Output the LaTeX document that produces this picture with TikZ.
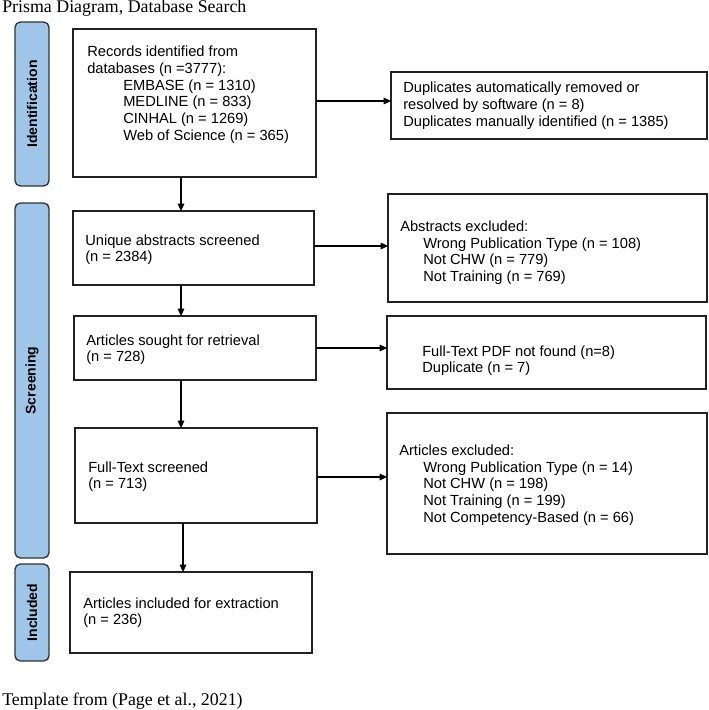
\documentclass[tikz,border=0pt]{standalone}
\usepackage{fontspec}
\setmainfont{Liberation Serif}
\setsansfont{Liberation Sans}
\usetikzlibrary{arrows.meta}
\definecolor{barblue}{HTML}{9FC5E8}
\definecolor{barline}{HTML}{333333}
\definecolor{boxline}{HTML}{222222}
\newcommand{\mylines}[1]{\begin{tabular}[t]{@{}l@{}}#1\end{tabular}}
\tikzset{
  box/.style={draw=boxline, line width=0.9pt, fill=white, anchor=north west, inner sep=0pt, outer sep=0pt},
  bar/.style={draw=barline, line width=1pt, fill=barblue, rounded corners=4pt, anchor=north west, inner sep=0pt, outer sep=0pt},
  txt/.style={anchor=base west, inner sep=0pt, font=\sffamily\fontsize{11}{12.6}\selectfont},
  barlbl/.style={rotate=90, inner sep=0pt, font=\sffamily\bfseries\fontsize{10.5}{12.6}\selectfont},
  caption/.style={anchor=base west, inner sep=0pt, font=\rmfamily\fontsize{13.4}{15}\selectfont},
  arr/.style={draw=black, line width=0.8pt, -{Triangle[length=5.5pt,width=5pt]}}
}
\begin{document}
\begin{tikzpicture}[x=0.75pt,y=-0.75pt]
\useasboundingbox (0,0) rectangle (708,710);
% title and footer
\node[caption] (title) at (2,13) {Prisma Diagram, Database Search};
\node[caption] (footer) at (2,705) {Template from (Page et al., 2021)};
% side bars
\node[bar, minimum width=34*0.75pt, minimum height=164*0.75pt] (barI) at (15,22) {};
\node[barlbl] (lblI) at (barI.center) {Identification};
\node[bar, minimum width=34*0.75pt, minimum height=355*0.75pt] (barS) at (15,203) {};
\node[barlbl] (lblS) at (barS.center) {Screening};
\node[bar, minimum width=34*0.75pt, minimum height=97*0.75pt] (barN) at (15,564) {};
\node[barlbl] (lblN) at (barN.center) {Included};
% main boxes
\node[box, minimum width=243*0.75pt, minimum height=148*0.75pt] (b1) at (73,29) {};
\node[box, minimum width=241*0.75pt, minimum height=74*0.75pt] (b2) at (73,211) {};
\node[box, minimum width=242*0.75pt, minimum height=64*0.75pt] (b3) at (74,316) {};
\node[box, minimum width=242*0.75pt, minimum height=95*0.75pt] (b4) at (75,428) {};
\node[box, minimum width=242*0.75pt, minimum height=81*0.75pt] (b5) at (70,572) {};
% right boxes
\node[box, minimum width=316*0.75pt, minimum height=67*0.75pt] (r1) at (391,72) {};
\node[box, minimum width=319*0.75pt, minimum height=108*0.75pt] (r2) at (388,194) {};
\node[box, minimum width=319*0.75pt, minimum height=73*0.75pt] (r3) at (387,316) {};
\node[box, minimum width=320*0.75pt, minimum height=141*0.75pt] (r4) at (387,413) {};
% texts
\node[txt] (t1) at (87,57) {\mylines{Records identified from\\databases (n =3777):}};
\node[txt] (t1b) at (123,90) {\mylines{EMBASE (n = 1310)\\MEDLINE (n = 833)\\CINHAL (n = 1269)\\Web of Science (n = 365)}};
\node[txt] (t2) at (85,245) {\mylines{Unique abstracts screened\\(n = 2384)}};
\node[txt] (t3) at (86,345) {\mylines{Articles sought for retrieval\\(n = 728)}};
\node[txt] (t4) at (88,472) {\mylines{Full-Text screened\\(n = 713)}};
\node[txt] (t5) at (83,608) {\mylines{Articles included for extraction\\(n = 236)}};
\node[txt] (u1) at (403,93) {\mylines{Duplicates automatically removed or\\resolved by software (n = 8)\\Duplicates manually identified (n = 1385)}};
\node[txt] (u2) at (400,231) {Abstracts excluded:};
\node[txt] (u2b) at (423,248) {\mylines{Wrong Publication Type (n = 108)\\Not CHW (n = 779)\\Not Training (n = 769)}};
\node[txt] (u3) at (422,356) {\mylines{Full-Text PDF not found (n=8)\\Duplicate (n = 7)}};
\node[txt] (u4) at (399,455) {Articles excluded:};
\node[txt] (u4b) at (423,472) {\mylines{Wrong Publication Type (n = 14)\\Not CHW (n = 198)\\Not Training (n = 199)\\Not Competency-Based (n = 66)}};
% connector guides
\coordinate (vx1) at (181,0);
\coordinate (vx2) at (183,0);
\coordinate (h1) at (0,101);
\coordinate (h2) at (0,246);
\coordinate (h3) at (0,348);
\coordinate (h4) at (0,477);
% vertical arrows
\draw[arr] (b1.south -| vx1) -- (b2.north -| vx1);
\draw[arr] (b2.south -| vx1) -- (b3.north -| vx1);
\draw[arr] (b3.south -| vx1) -- (b4.north -| vx1);
\draw[arr] (b4.south -| vx2) -- (b5.north -| vx2);
% horizontal arrows
\draw[arr] (b1.east |- h1) -- (r1.west |- h1);
\draw[arr] (b2.east |- h2) -- (r2.west |- h2);
\draw[arr] (b3.east |- h3) -- (r3.west |- h3);
\draw[arr] (b4.east |- h4) -- (r4.west |- h4);
\end{tikzpicture}
\end{document}
